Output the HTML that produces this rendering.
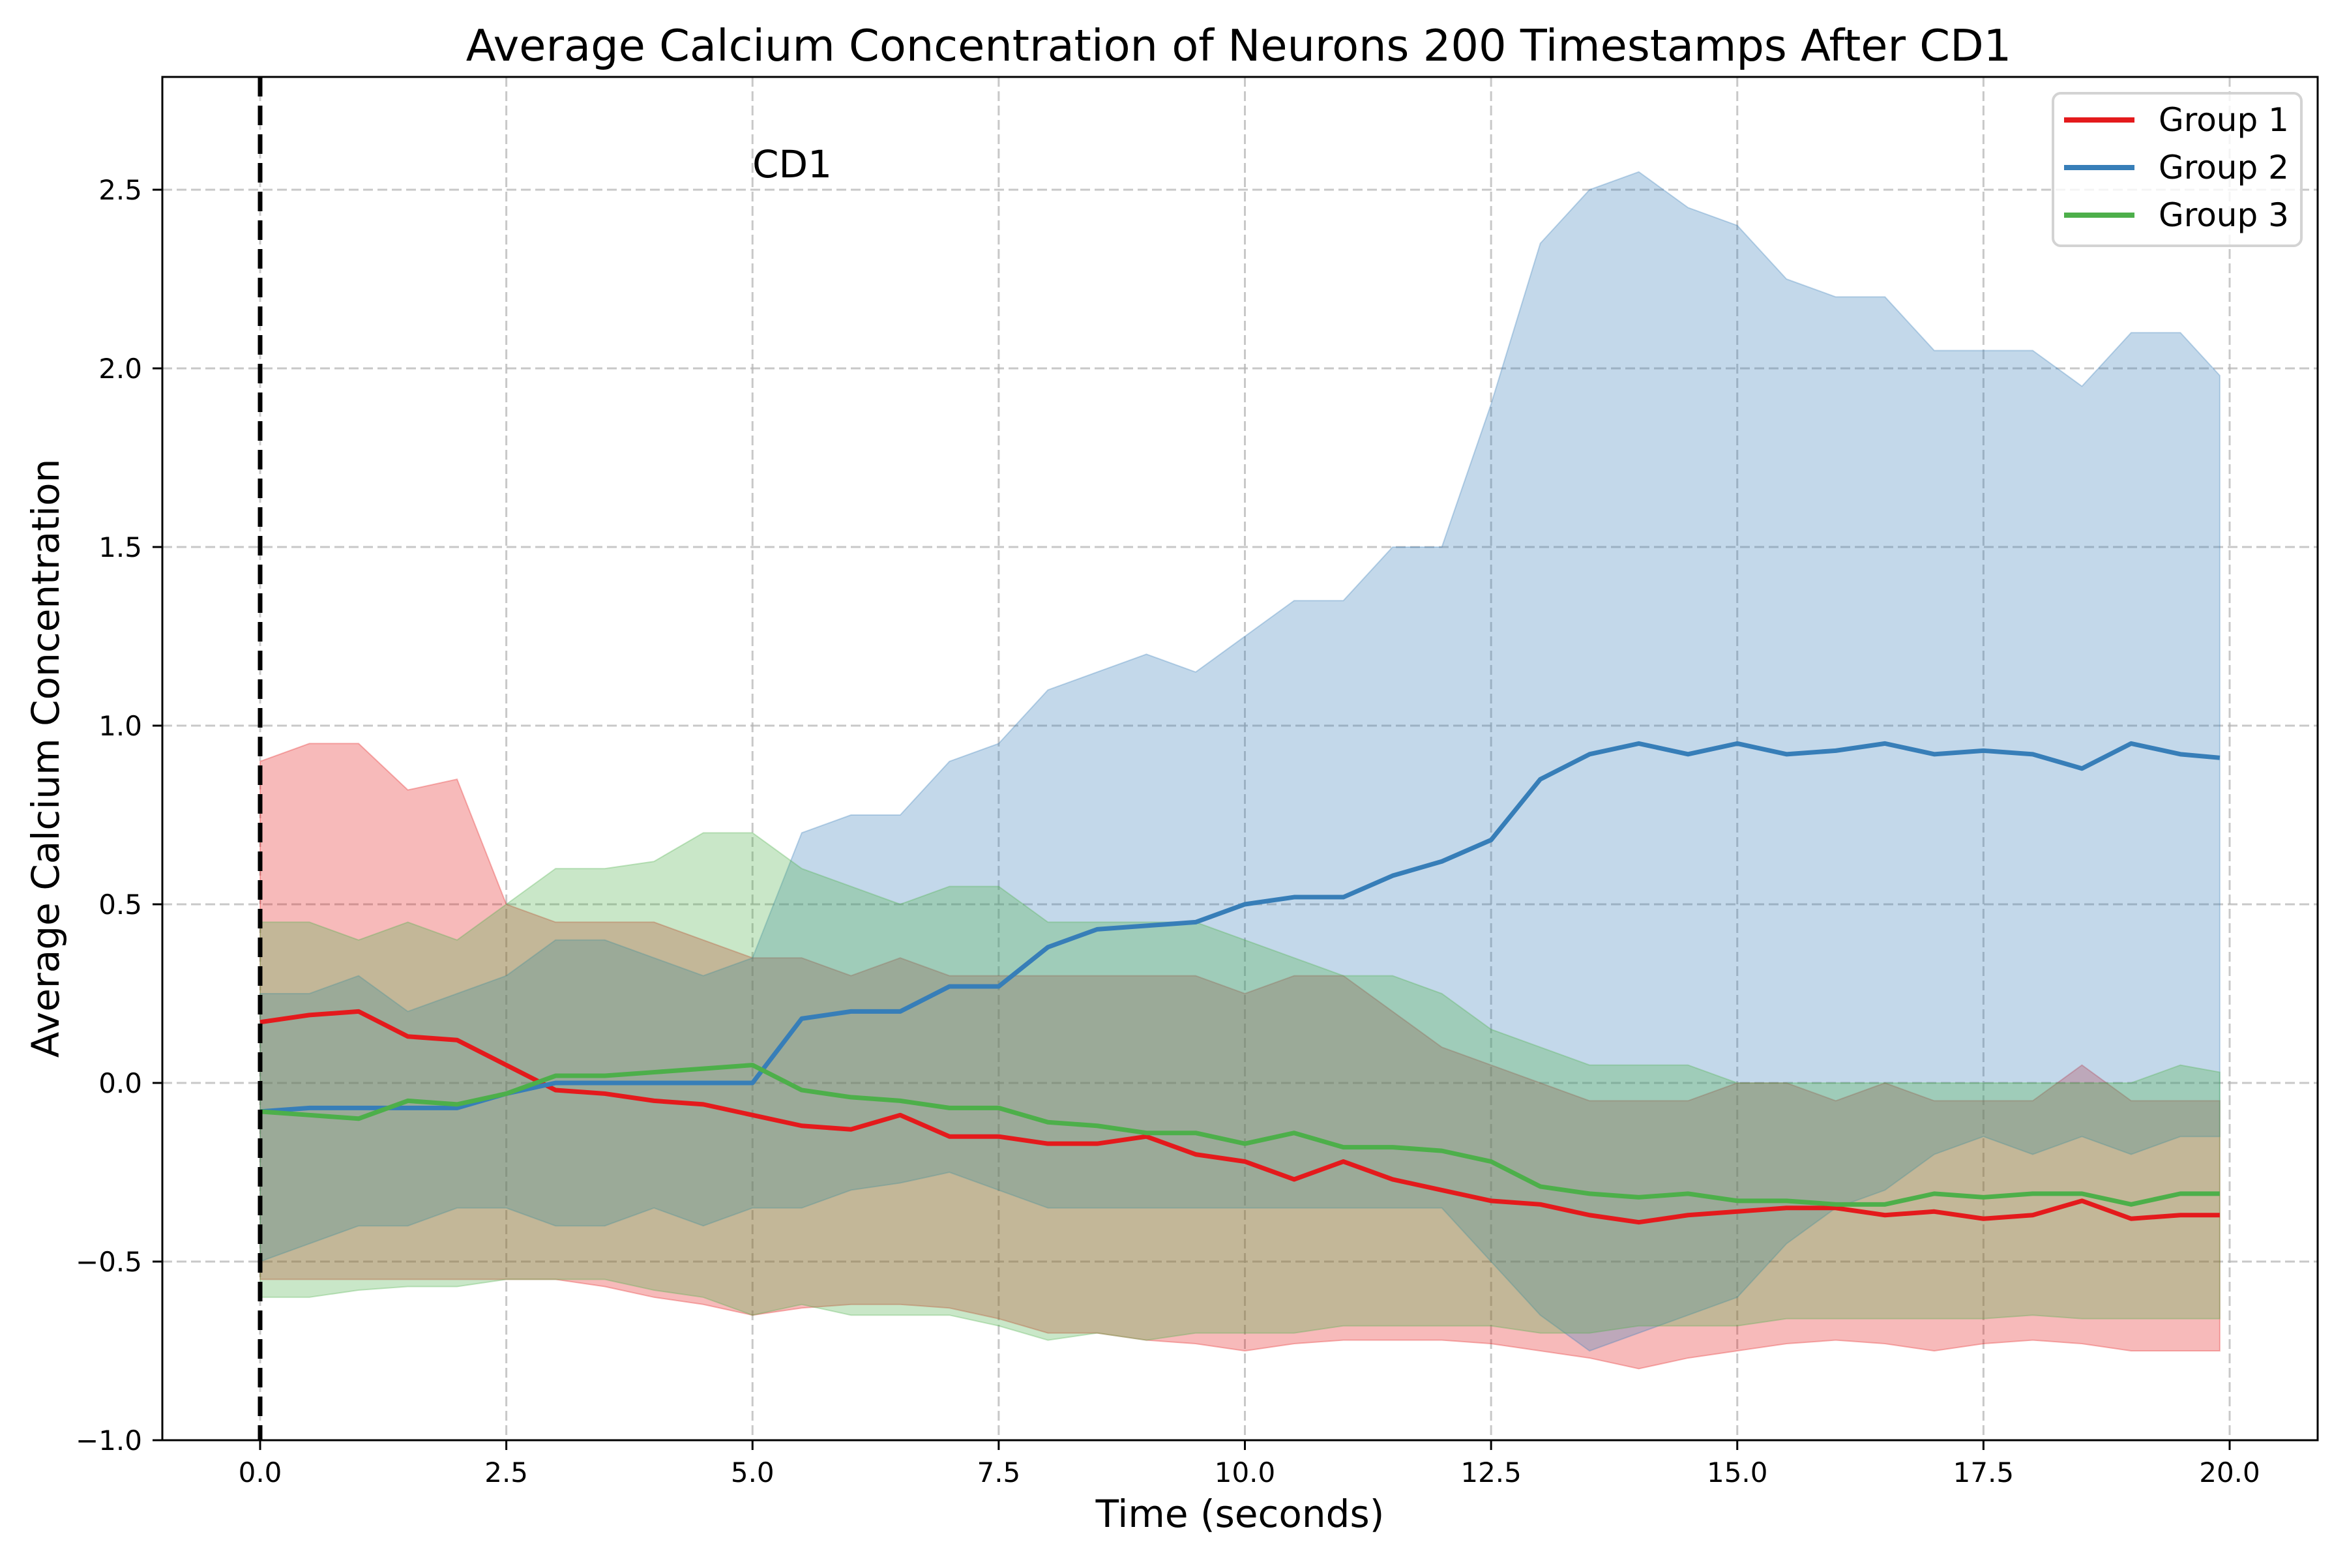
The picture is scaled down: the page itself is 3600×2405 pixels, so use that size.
<!DOCTYPE html>
<html><head><meta charset="utf-8"><style>
html,body{margin:0;padding:0;background:#fff;}
svg text{font-family:"DejaVu Sans","Liberation Sans",sans-serif;}
</style></head><body>
<svg id="chart" width="3600" height="2400" xmlns="http://www.w3.org/2000/svg">
<rect width="3600" height="2400" fill="#fff"/>
<g id="grid"></g>
<g id="fills"></g>
<g id="lines"></g>
<line x1="399" y1="118" x2="399" y2="2209" stroke="#000" stroke-width="7" stroke-dasharray="30,14"/>
<text x="1154" y="272" font-size="58">CD1</text>
<rect x="249" y="118" width="3306" height="2091" fill="none" stroke="#000" stroke-width="3"/>
<g id="ticks"></g>
<text x="1900" y="93" font-size="67" text-anchor="middle">Average Calcium Concentration of Neurons 200 Timestamps After CD1</text>
<text x="1902" y="2342" font-size="58" text-anchor="middle">Time (seconds)</text>
<text x="0" y="0" font-size="58" text-anchor="middle" transform="translate(90,1163) rotate(-90)">Average Calcium Concentration</text>
<g>
<rect x="3149" y="143" width="381" height="234" rx="12" fill="#fff" fill-opacity="0.8" stroke="#d3d3d3" stroke-width="4"/>
<line x1="3166" y1="184" x2="3274" y2="184" stroke="#e41a1c" stroke-width="8"/>
<text x="3311" y="201" font-size="50">Group 1</text>
<line x1="3166" y1="257" x2="3274" y2="257" stroke="#377eb8" stroke-width="8"/>
<text x="3311" y="274" font-size="50">Group 2</text>
<line x1="3166" y1="330" x2="3274" y2="330" stroke="#4daf4a" stroke-width="8"/>
<text x="3311" y="347" font-size="50">Group 3</text>
</g>
</svg>
<script>
const times=[0,0.5,1,1.5,2,2.5,3,3.5,4,4.5,5,5.5,6,6.5,7,7.5,8,8.5,9,9.5,10,10.5,11,11.5,12,12.5,13,13.5,14,14.5,15,15.5,16,16.5,17,17.5,18,18.5,19,19.5,19.9];
const g1Mean=[0.17,0.19,0.2,0.13,0.12,0.05,-0.02,-0.03,-0.05,-0.06,-0.09,-0.12,-0.13,-0.09,-0.15,-0.15,-0.17,-0.17,-0.15,-0.2,-0.22,-0.27,-0.22,-0.27,-0.3,-0.33,-0.34,-0.37,-0.39,-0.37,-0.36,-0.35,-0.35,-0.37,-0.36,-0.38,-0.37,-0.33,-0.38,-0.37,-0.37];
const g1Upper=[0.9,0.95,0.95,0.82,0.85,0.5,0.45,0.45,0.45,0.4,0.35,0.35,0.3,0.35,0.3,0.3,0.3,0.3,0.3,0.3,0.25,0.3,0.3,0.2,0.1,0.05,0.0,-0.05,-0.05,-0.05,0.0,0.0,-0.05,0.0,-0.05,-0.05,-0.05,0.05,-0.05,-0.05,-0.05];
const g1Lower=[-0.55,-0.55,-0.55,-0.55,-0.55,-0.55,-0.55,-0.57,-0.6,-0.62,-0.65,-0.63,-0.62,-0.62,-0.63,-0.66,-0.7,-0.7,-0.72,-0.73,-0.75,-0.73,-0.72,-0.72,-0.72,-0.73,-0.75,-0.77,-0.8,-0.77,-0.75,-0.73,-0.72,-0.73,-0.75,-0.73,-0.72,-0.73,-0.75,-0.75,-0.75];
const g2Mean=[-0.08,-0.07,-0.07,-0.07,-0.07,-0.03,0.0,0.0,0.0,0.0,0.0,0.18,0.2,0.2,0.27,0.27,0.38,0.43,0.44,0.45,0.5,0.52,0.52,0.58,0.62,0.68,0.85,0.92,0.95,0.92,0.95,0.92,0.93,0.95,0.92,0.93,0.92,0.88,0.95,0.92,0.91];
const g2Upper=[0.25,0.25,0.3,0.2,0.25,0.3,0.4,0.4,0.35,0.3,0.35,0.7,0.75,0.75,0.9,0.95,1.1,1.15,1.2,1.15,1.25,1.35,1.35,1.5,1.5,1.9,2.35,2.5,2.55,2.45,2.4,2.25,2.2,2.2,2.05,2.05,2.05,1.95,2.1,2.1,1.98];
const g2Lower=[-0.5,-0.45,-0.4,-0.4,-0.35,-0.35,-0.4,-0.4,-0.35,-0.4,-0.35,-0.35,-0.3,-0.28,-0.25,-0.3,-0.35,-0.35,-0.35,-0.35,-0.35,-0.35,-0.35,-0.35,-0.35,-0.5,-0.65,-0.75,-0.7,-0.65,-0.6,-0.45,-0.35,-0.3,-0.2,-0.15,-0.2,-0.15,-0.2,-0.15,-0.15];
const g3Mean=[-0.08,-0.09,-0.1,-0.05,-0.06,-0.03,0.02,0.02,0.03,0.04,0.05,-0.02,-0.04,-0.05,-0.07,-0.07,-0.11,-0.12,-0.14,-0.14,-0.17,-0.14,-0.18,-0.18,-0.19,-0.22,-0.29,-0.31,-0.32,-0.31,-0.33,-0.33,-0.34,-0.34,-0.31,-0.32,-0.31,-0.31,-0.34,-0.31,-0.31];
const g3Upper=[0.45,0.45,0.4,0.45,0.4,0.5,0.6,0.6,0.62,0.7,0.7,0.6,0.55,0.5,0.55,0.55,0.45,0.45,0.45,0.45,0.4,0.35,0.3,0.3,0.25,0.15,0.1,0.05,0.05,0.05,0.0,0.0,0.0,0.0,0.0,0.0,0.0,0.0,0.0,0.05,0.03];
const g3Lower=[-0.6,-0.6,-0.58,-0.57,-0.57,-0.55,-0.55,-0.55,-0.58,-0.6,-0.65,-0.62,-0.65,-0.65,-0.65,-0.68,-0.72,-0.7,-0.72,-0.7,-0.7,-0.7,-0.68,-0.68,-0.68,-0.68,-0.7,-0.7,-0.68,-0.68,-0.68,-0.66,-0.66,-0.66,-0.66,-0.66,-0.65,-0.66,-0.66,-0.66,-0.66];
const xTicks=[0,2.5,5,7.5,10,12.5,15,17.5,20];
const xTickLabels=["0.0","2.5","5.0","7.5","10.0","12.5","15.0","17.5","20.0"];
const yTicks=[-1,-0.5,0,0.5,1,1.5,2,2.5];
const yTickLabels=["\u22121.0","\u22120.5","0.0","0.5","1.0","1.5","2.0","2.5"];

const NS="http://www.w3.org/2000/svg";
const X=v=>399+v*151.05;
const Y=v=>2209-(v+1)*548;
function mk(tag,attrs,parent){const e=document.createElementNS(NS,tag);for(const k in attrs)e.setAttribute(k,attrs[k]);parent.appendChild(e);return e;}
const grid=document.getElementById('grid'),ticks=document.getElementById('ticks'),fills=document.getElementById('fills'),lines=document.getElementById('lines');
xTicks.forEach((t,i)=>{
  const gl=mk('line',{x1:X(t),x2:X(t),y1:118,y2:2209,stroke:'#b0b0b0','stroke-opacity':0.7,'stroke-width':3,'stroke-dasharray':'15,7'},grid);
  
  
  const tk=mk('line',{x1:X(t),x2:X(t),y1:2209,y2:2224,stroke:'#000','stroke-width':3},ticks);
  
  
  const tl=mk('text',{x:X(t),y:2273,'font-size':42,'text-anchor':'middle'},ticks);
  tl.textContent=xTickLabels[i];
  
  
});
yTicks.forEach((t,i)=>{
  const gl=mk('line',{x1:249,x2:3555,y1:Y(t),y2:Y(t),stroke:'#b0b0b0','stroke-opacity':0.7,'stroke-width':3,'stroke-dasharray':'15,7'},grid);
  
  
  const tk=mk('line',{x1:234,x2:249,y1:Y(t),y2:Y(t),stroke:'#000','stroke-width':3},ticks);
  
  
  const tl=mk('text',{x:218,y:Y(t)+15,'font-size':42,'text-anchor':'end'},ticks);
  tl.textContent=yTickLabels[i];
  
  
});
const groups=[
  {name:'group-1',color:'#e41a1c',mean:g1Mean,up:g1Upper,lo:g1Lower},
  {name:'group-2',color:'#377eb8',mean:g2Mean,up:g2Upper,lo:g2Lower},
  {name:'group-3',color:'#4daf4a',mean:g3Mean,up:g3Upper,lo:g3Lower}
];
groups.forEach(g=>{
  let d='M'+times.map((t,i)=>X(t)+','+Y(g.up[i])).join('L');
  for(let i=times.length-1;i>=0;i--)d+='L'+X(times[i])+','+Y(g.lo[i]);
  d+='Z';
  const band=mk('path',{d:d,fill:g.color,'fill-opacity':0.3,stroke:g.color,'stroke-opacity':0.3,'stroke-width':2},fills);
  
  
  const ln=mk('polyline',{points:times.map((t,i)=>X(t)+','+Y(g.mean[i])).join(' '),fill:'none',stroke:g.color,'stroke-width':7,'stroke-linejoin':'round'},lines);
  
  
});
</script>
</body></html>
